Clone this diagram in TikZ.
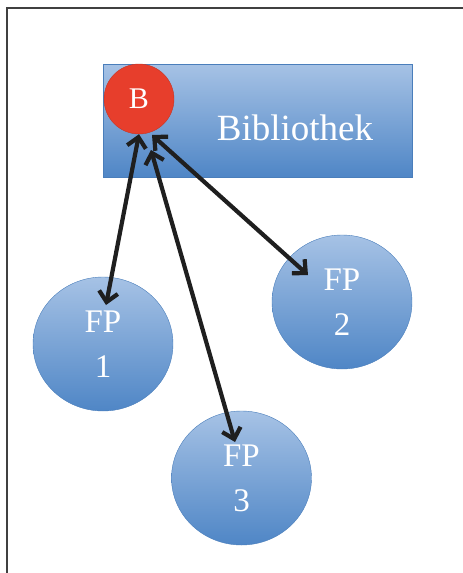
\documentclass[tikz,border=0pt]{standalone}
\usepackage{fontspec}
\setmainfont{Liberation Serif}
\usetikzlibrary{positioning}
\usetikzlibrary{shapes.geometric}
\usetikzlibrary{arrows.meta}

\definecolor{fpblue}{RGB}{79,134,198}
\definecolor{fplight}{RGB}{166,194,229}
\definecolor{fpedge}{RGB}{74,126,187}
\definecolor{bred}{RGB}{231,62,44}
\definecolor{framegray}{RGB}{64,64,64}

\tikzset{
	fp/.style={ellipse, draw=fpedge, top color=fplight, bottom color=fpblue,
		minimum width=140pt, minimum height=134pt, inner sep=0pt, text=white,
		align=center, font=\fontsize{33}{45}\selectfont},
	link/.style={<->, >={Straight Barb[length=10pt,width=19pt]}, line width=4.2pt,
		draw=black!88}
}

\begin{document}
\begin{tikzpicture}[x=1pt, y=-1pt]
		\useasboundingbox (0,0) rectangle (463,573);
		\draw[framegray, line width=2pt] (7,573) -- (7,8) -- (463,8);
		\node (bib) [draw=fpedge, rectangle, top color=fplight, bottom
		color=fpblue, minimum width=309pt, minimum height=113pt] at (257.5,120.5)
		{}; \node (bibtext) [text=white, font=\fontsize{37}{40}\selectfont] at
		(295,128) {Bibliothek}; \node (b) [circle, fill=bred, draw=bred!85!black,
		minimum size=70pt, inner sep=0pt, text=white,
		font=\fontsize{30}{32}\selectfont] at (139,99) {B};
		\node (fp1) [fp] at (103,344) {FP\\1}; \node (fp2) [fp] at (342,302)
		{FP\\2}; \node (fp3) [fp] at (241.5,478) {FP\\3};
		\draw[link] (b.south) -- ([shift={(3,-39)}]fp1.center); \draw[link]
		([shift={(12,51)}]b.center) -- ([shift={(-6.5,-36)}]fp3.center);
		\draw[link] ([shift={(13,36)}]b.center) -- ([shift={(-34,-27)}]fp2.center);
	\end{tikzpicture}
\end{document}
